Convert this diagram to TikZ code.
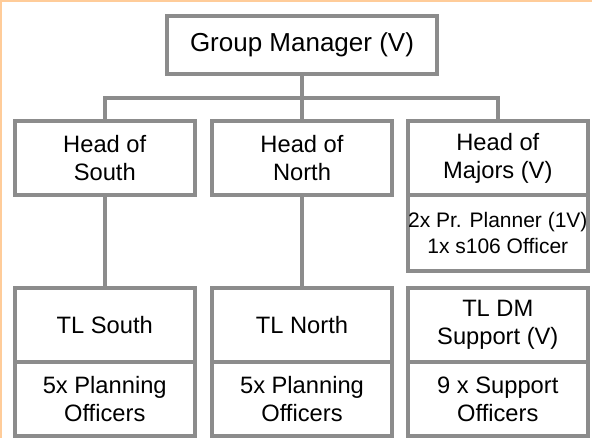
\documentclass[tikz,border=0pt]{standalone}
\usepackage{fontspec}
\setmainfont{Liberation Sans}
\definecolor{boxgray}{RGB}{140,140,140}
\definecolor{frameorange}{RGB}{255,204,153}
\begin{document}
\begin{tikzpicture}[x=1pt,y=1pt,
  box/.style={draw=boxgray,line width=4pt,fill=white,inner sep=0pt,align=center,
    font=\fontsize{23.7}{28}\selectfont},
  colbox/.style={box,minimum width=180.5pt},
  link/.style={draw=boxgray,line width=4pt}]
\useasboundingbox (0,0) rectangle (592,438);
\fill[white] (0,0) rectangle (592,438);
\draw[frameorange,line width=2pt] (1,0) -- (1,437) -- (592,437);
\coordinate (busy) at (0,340.2);
\node[box,minimum width=270.5pt,minimum height=58.3pt,font=\fontsize{26}{30}\selectfont] (gm) at (302,393.3) {Group Manager (V)};
\node[colbox,minimum height=74.2pt] (hs) at (104.75,280) {Head of\\South};
\node[colbox,minimum height=74.2pt] (hn) at (302,280) {Head of\\North};
\node[colbox,minimum width=179.5pt,minimum height=74.2pt] (hm) at (497.8,280) {Head of\\Majors (V)};
\node[colbox,minimum width=179.5pt,minimum height=75.8pt,font=\fontsize{21}{25.5}\selectfont] (hmsub) at (497.8,205.1) {2x Pr. Planner (1V)\\1x s106 Officer};
\node[colbox,minimum height=74.7pt] (tls) at (104.75,112.8) {TL South};
\node[colbox,minimum height=74pt] (pos) at (104.75,38.5) {5x Planning\\Officers};
\node[colbox,minimum height=74.7pt] (tln) at (302,112.8) {TL North};
\node[colbox,minimum height=74pt] (pon) at (302,38.5) {5x Planning\\Officers};
\node[colbox,minimum width=179.5pt,minimum height=74.7pt] (tlm) at (497.8,112.8) {TL DM\\Support (V)};
\node[colbox,minimum width=179.5pt,minimum height=74pt] (som) at (497.8,38.5) {9 x Support\\Officers};
\path[link] (gm.south) -- (hn.north);
\path[link] (hs.north) -- (hs.north |- busy) -- (hm.north |- busy) -- (hm.north);
\path[link] (hs.south) -- (tls.north);
\path[link] (hn.south) -- (tln.north);
\end{tikzpicture}
\end{document}
